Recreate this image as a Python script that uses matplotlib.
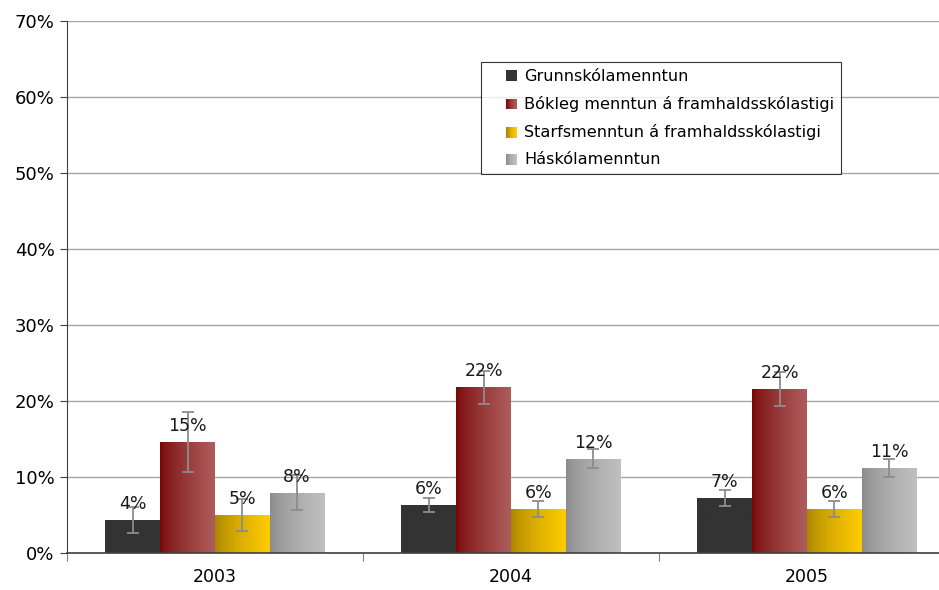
import numpy as np
import matplotlib
matplotlib.use("Agg")
import matplotlib.pyplot as plt
from matplotlib.patches import Rectangle
from matplotlib.legend_handler import HandlerBase
from matplotlib.colors import LinearSegmentedColormap

years = ["2003", "2004", "2005"]
series = ["Grunnskólamenntun", "Bókleg menntun á framhaldsskólastigi",
          "Starfsmenntun á framhaldsskólastigi", "Háskólamenntun"]
values = {
    "Grunnskólamenntun": [4.3, 6.3, 7.2],
    "Bókleg menntun á framhaldsskólastigi": [14.6, 21.8, 21.6],
    "Starfsmenntun á framhaldsskólastigi": [5.0, 5.8, 5.8],
    "Háskólamenntun": [7.9, 12.4, 11.2],
}
errors = {
    "Grunnskólamenntun": [1.7, 0.9, 1.05],
    "Bókleg menntun á framhaldsskólastigi": [4.0, 2.2, 2.2],
    "Starfsmenntun á framhaldsskólastigi": [2.1, 1.05, 1.05],
    "Háskólamenntun": [2.3, 1.25, 1.2],
}
labels = {
    "Grunnskólamenntun": ["4%", "6%", "7%"],
    "Bókleg menntun á framhaldsskólastigi": ["15%", "22%", "22%"],
    "Starfsmenntun á framhaldsskólastigi": ["5%", "6%", "6%"],
    "Háskólamenntun": ["8%", "12%", "11%"],
}
grad = {
    "Grunnskólamenntun": ("#333333", "#333333"),
    "Bókleg menntun á framhaldsskólastigi": ("#780505", "#ad5c5c"),
    "Starfsmenntun á framhaldsskólastigi": ("#a88400", "#ffcc00"),
    "Háskólamenntun": ("#8c8c8c", "#c0c0c0"),
}
yticks = [0, 10, 20, 30, 40, 50, 60, 70]

plt.rcParams['font.family'] = ['DejaVu Sans']
fig = plt.figure(figsize=(9.39, 5.90), dpi=100)
ax = fig.add_axes([67/939, 1-553/590, (955-67)/939, (553-21)/590])

ax.set_ylim(0, 70)
ax.set_xlim(0, 3)
ax.set_yticks(yticks)
ax.set_yticklabels([f"{t}%" for t in yticks], fontsize=13)
ax.yaxis.grid(True, color="#a6a6a6", linewidth=1.0)
ax.set_axisbelow(True)
ax.set_xticks([0, 1, 2, 3])
ax.set_xticklabels([])
ax.set_xticks([0.5, 1.5, 2.5], minor=True)
ax.set_xticklabels(years, minor=True, fontsize=12.5)
ax.tick_params(axis="x", which="minor", length=0, pad=11)
ax.tick_params(axis="x", which="major", length=6, color="#808080")
ax.tick_params(axis="y", length=5, color="#404040", pad=4)
for s in ["top", "right"]:
    ax.spines[s].set_visible(False)
ax.spines["left"].set_color("#404040")
ax.spines["bottom"].set_color("#404040")
ax.spines["bottom"].set_linewidth(1.2)

bw = 0.185
n = len(series)
def gradient_img(c1, c2):
    cmap = LinearSegmentedColormap.from_list("g", [c1, c2])
    x = np.linspace(0, 1, 64) ** 0.7
    return cmap(x)[None, :, :]

for i, s in enumerate(series):
    xs = np.arange(len(years)) + 0.5 + (i - (n - 1) / 2) * bw
    bars = ax.bar(xs, values[s], width=bw, color="none", edgecolor="none", zorder=2)
    img = gradient_img(*grad[s])
    for b in bars:
        x0, w, h = b.get_x(), b.get_width(), b.get_height()
        im = ax.imshow(img, extent=[x0, x0 + w, 0, h], aspect="auto", zorder=2, interpolation="bilinear")
        im.set_clip_path(b)
    ax.errorbar(xs, values[s], yerr=errors[s], fmt="none", ecolor="#8c8c8c",
                elinewidth=1.3, capsize=4.5, capthick=1.3, zorder=3)
    for x, v, lab in zip(xs, values[s], labels[s]):
        ax.annotate(lab, (x, v), xytext=(0, 5), textcoords="offset points",
                    ha="center", va="bottom", fontsize=12.5, color="#1a1a1a", zorder=4)
ax.set_xlim(0, 3)
ax.set_ylim(0, 70)

class GradHandler(HandlerBase):
    def create_artists(self, legend, orig, xd, yd, w, h, fontsize, trans):
        c1, c2 = orig.grad
        cmap = LinearSegmentedColormap.from_list("g", [c1, c2])
        side = h * 1.0
        x0 = xd + w - side
        arts = []
        k = 12
        for j in range(k):
            r = Rectangle((x0 + side * j / k, yd), side / k + 0.3, side,
                          facecolor=cmap((j / (k - 1)) ** 0.7), edgecolor="none", transform=trans)
            arts.append(r)
        return arts

handles = []
for s in series:
    p = Rectangle((0, 0), 1, 1)
    p.grad = grad[s]
    handles.append(p)

leg = ax.legend(handles, series, handler_map={Rectangle: GradHandler()},
                loc="upper left", bbox_to_anchor=((481 - 67) / 888, 1 - (62 - 21) / 532),
                fontsize=11.6, frameon=True, fancybox=False, edgecolor="#000000",
                borderpad=0.42, labelspacing=0.76, handlelength=1.8, handleheight=0.65,
                handletextpad=0.45, borderaxespad=0)
leg.get_frame().set_linewidth(0.8)

fig.savefig("out.png", dpi=100)
